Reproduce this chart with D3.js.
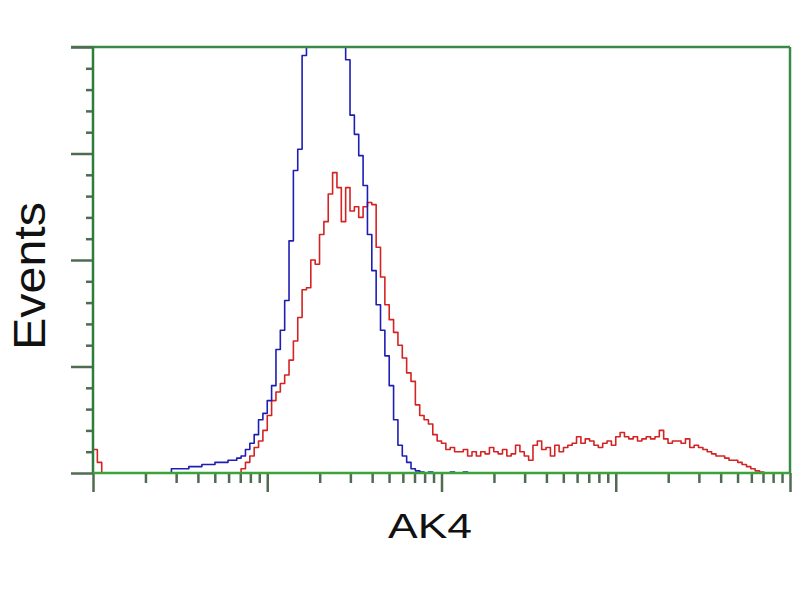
<!DOCTYPE html>
<html>
<head>
<meta charset="utf-8">
<script src="https://cdn.jsdelivr.net/npm/d3@7"></script>
<style>
  body { margin: 0; background: #fff; }
  svg { display: block; }
</style>
</head>
<body>
<div id="dataviz"></div>
<script>
// histogram bins, in decades of fluorescence (0..4 => 10^0 .. 10^4)
var binLogs = d3.range(0, 161).map(function(i) { return i / 40; });

// events per bin
var controlCounts = [
  0,0,0,0,0,0,0,0,0,0, 0,0,0,0,0,0,0,0,2,2,
  2,2,3,3,3,4,4,4,5,5, 5,6,6,7,8,11,14,18,25,28,
  34,41,58,67,81,109,142,152,196,220, 228,236,240,238,232,236,240,226,194,168,
  159,149,135,112,95,79,67,55,41,25, 13,8,5,2,1,0.5,0,0.5,0,0,
  0,0,0.5,0,0,0.5,0,0,0,0, 0,0,0,0,0,0,0,0,0,0,
  0,0,0,0,0,0,0,0,0,0, 0,0,0,0,0,0,0,0,0,0,
  0,0,0,0,0,0,0,0,0,0, 0,0,0,0,0,0,0,0,0,0,
  0,0,0,0,0,0,0,0,0,0, 0,0,0,0,0,0,0,0,0,0,
  0
];
var ak4Counts = [
  11,5,0,0,0,0,0,0,0,0, 0,0,0,0,0,0,0,0,0,0,
  0,0,0,0,0,0,0,0,0,0, 0,0,0,0,2,5,8,12,15,20,
  27,34,38,42,46,53,62,73,86,87, 100,98,112,118,131,141,134,118,134,123,
  125,120,125,127,126,106,92,79,72,66, 60,54,47,43,32,27,25,23,18,15,
  14,11,12,10,10,11,8,10,8,10, 9,12,10,9,11,8,9,13,10,8,
  6,13,15,11,12,8,13,10,12,13, 14,17,14,16,15,13,12,14,15,13,
  17,19,17,16,17,15,16,17,16,17, 20,16,14,15,15,14,16,12,13,12,
  11,10,9,8,8,7,6,6,5,4, 3,2,1,0.5,0,0,0,0,0,0,
  0
];

var yMajor = [0, 50, 100, 150, 200];
var yMinor = d3.range(0, 201, 10).filter(function(v) { return v % 50 !== 0; });
var xMajor = [1, 10, 100, 1000, 10000];
var xMinor = [1, 10, 100, 1000].reduce(function(acc, d) {
  return acc.concat([2,3,4,5,6,7,8,9].map(function(k) { return k * d; }));
}, []);

var W = 800, H = 600;
var margin = {left: 93, right: 790, top: 47, bottom: 473};

var svg = d3.select("#dataviz")
  .append("svg")
    .attr("width", W)
    .attr("height", H);

svg.append("rect")
  .attr("width", W).attr("height", H)
  .attr("fill", "#fff");

var x = d3.scaleLog()
  .domain([1, 10000])
  .range([margin.left, margin.right]);

var y = d3.scaleLinear()
  .domain([0, 200])
  .range([margin.bottom, margin.top]);

// clip so the control peak runs off the top like the original
svg.append("clipPath")
  .attr("id", "plotClip")
  .append("rect")
    .attr("x", margin.left)
    .attr("y", margin.top)
    .attr("width", margin.right - margin.left)
    .attr("height", margin.bottom - margin.top + 2);

var line = d3.line()
  .x(function(d) { return x(Math.pow(10, d[0])); })
  .y(function(d) { return y(d[1]); })
  .curve(d3.curveStepAfter);

var series = [
  { counts: ak4Counts, color: "#d42323" },
  { counts: controlCounts, color: "#1e1eb4" }
];

svg.append("g")
  .attr("clip-path", "url(#plotClip)")
  .selectAll("path")
  .data(series)
  .enter()
  .append("path")
    .attr("d", function(s) {
      return line(binLogs.map(function(b, i) { return [b, s.counts[i]]; }));
    })
    .attr("fill", "none")
    .attr("stroke", function(s) { return s.color; })
    .attr("stroke-width", 1.6)
    .attr("stroke-linejoin", "round");

// frame: top and right
svg.append("line")
  .attr("x1", margin.left - 22).attr("x2", margin.right)
  .attr("y1", margin.top).attr("y2", margin.top)
  .attr("stroke", "#3a8a47").attr("stroke-width", 2.5);
svg.append("line")
  .attr("x1", margin.right).attr("x2", margin.right)
  .attr("y1", margin.top).attr("y2", margin.bottom)
  .attr("stroke", "#3a8a47").attr("stroke-width", 2.5);

// y axis
var yAxisMajor = svg.append("g")
  .attr("transform", "translate(" + margin.left + ",0)")
  .call(d3.axisLeft(y).tickValues(yMajor).tickSize(22).tickFormat(""));
var yAxisMinor = svg.append("g")
  .attr("transform", "translate(" + margin.left + ",0)")
  .call(d3.axisLeft(y).tickValues(yMinor).tickSize(7).tickFormat(""));

// x axis
var xAxisMajor = svg.append("g")
  .attr("transform", "translate(0," + margin.bottom + ")")
  .call(d3.axisBottom(x).tickValues(xMajor).tickSize(19).tickFormat(""));
var xAxisMinor = svg.append("g")
  .attr("transform", "translate(0," + margin.bottom + ")")
  .call(d3.axisBottom(x).tickValues(xMinor).tickSize(10).tickFormat(""));

[yAxisMajor, yAxisMinor, xAxisMajor, xAxisMinor].forEach(function(g) {
  g.select(".domain").remove();
  g.selectAll(".tick line")
    .attr("stroke", "#4f6b52")
    .attr("stroke-width", 2.5);
});

// axis lines on top of the ticks
svg.append("line")
  .attr("x1", margin.left).attr("x2", margin.left)
  .attr("y1", margin.top).attr("y2", margin.bottom)
  .attr("stroke", "#2f7d3b").attr("stroke-width", 2.5);
svg.append("line")
  .attr("x1", margin.left).attr("x2", margin.right)
  .attr("y1", margin.bottom).attr("y2", margin.bottom)
  .attr("stroke", "#3aa43a").attr("stroke-width", 2.5);

// axis titles
svg.append("text")
  .attr("transform", "translate(45,276) rotate(-90)")
  .attr("text-anchor", "middle")
  .attr("font-family", "Liberation Sans, Arial, sans-serif")
  .attr("font-size", 44)
  .attr("textLength", 148)
  .attr("lengthAdjust", "spacingAndGlyphs")
  .attr("fill", "#111")
  .text("Events");

svg.append("text")
  .attr("x", 430)
  .attr("y", 538)
  .attr("text-anchor", "middle")
  .attr("font-family", "Liberation Sans, Arial, sans-serif")
  .attr("font-size", 35)
  .attr("textLength", 84)
  .attr("lengthAdjust", "spacingAndGlyphs")
  .attr("fill", "#111")
  .text("AK4");
</script>
</body>
</html>
